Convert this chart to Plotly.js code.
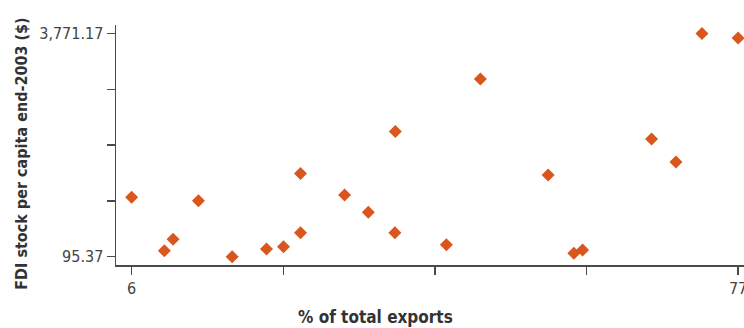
<!DOCTYPE html>
<html>
<head>
<meta charset="utf-8">
<script src="https://cdn.plot.ly/plotly-3.0.1.min.js"></script>
<style>html,body{margin:0;padding:0;background:#fff;}#chart{width:744px;height:328px;}</style>
</head>
<body>
<div id="chart"></div>
<script>
// % of total exports
const exportShare = [6, 9.83, 10.85, 13.82, 17.77, 21.79, 23.78, 25.77, 25.77, 30.93, 33.71, 36.87, 36.82, 42.85, 46.83, 54.76, 57.77, 58.79, 66.87, 69.72, 72.77, 77];
// FDI stock per capita end-2003 ($)
const fdiPerCapita = [1074, 194, 382, 1018, 95.37, 222, 260, 1463, 491, 1112, 827, 2156, 491, 293, 3020, 1442, 151, 206, 2031, 1656, 3771.17, 3695];
const yTickVals = [95.37, 1014.32, 1933.27, 2852.22, 3771.17];
const yTickText = ["95.37", "", "", "", "3,771.17"];
const xTickVals = [6, 23.75, 41.5, 59.25, 77];
const xTickText = ["6", "", "", "", "77"];
const xTitle = "% of total exports";
const yTitle = "FDI stock per capita end-2003 ($)";

const FONT = "'Liberation Sans Narrow', 'DejaVu Sans Condensed', 'Arial Narrow', sans-serif";
const AXIS = "#4a4a4a";

Plotly.newPlot("chart", [{
  type: "scatter",
  mode: "markers",
  x: exportShare,
  y: fdiPerCapita,
  marker: {symbol: "diamond", size: 10, color: "#d9561f", line: {width: 0}},
  hoverinfo: "x+y"
}], {
  width: 744, height: 328,
  margin: {l: 116, r: 0, t: 25, b: 63},
  paper_bgcolor: "#fff", plot_bgcolor: "#fff",
  showlegend: false,
  font: {family: FONT, color: "#444", size: 15},
  xaxis: {
    range: [4.17, 77.69],
    tickmode: "array", tickvals: xTickVals, ticktext: xTickText,
    ticks: "outside", ticklen: 8, tickcolor: AXIS, tickwidth: 1.3,
    showline: true, linecolor: AXIS, linewidth: 1.5,
    showgrid: false, zeroline: false, ticklabeloverflow: "allow",
    tickfont: {family: FONT, size: 16, color: "#444"}
  },
  yaxis: {
    range: [-41.4, 3909.8],
    tickmode: "array", tickvals: yTickVals, ticktext: yTickText,
    ticks: "outside", ticklen: 8, tickcolor: AXIS, tickwidth: 1.3,
    showline: true, linecolor: AXIS, linewidth: 1.5,
    showgrid: false, zeroline: false,
    tickfont: {family: FONT, size: 16, color: "#444"}
  },
  annotations: [
    {text: "<b>" + xTitle + "</b>", xref: "paper", yref: "paper", x: 0.414, y: -0.218,
     xanchor: "center", yanchor: "middle", showarrow: false,
     font: {family: FONT, size: 17, color: "#333"}},
    {text: "<b>" + yTitle + "</b>", xref: "paper", yref: "paper", x: -0.1503, y: 0.462,
     xanchor: "center", yanchor: "middle", showarrow: false, textangle: -90,
     font: {family: FONT, size: 16, color: "#333"}}
  ]
}, {displayModeBar: false, staticPlot: true});
</script>
</body>
</html>
